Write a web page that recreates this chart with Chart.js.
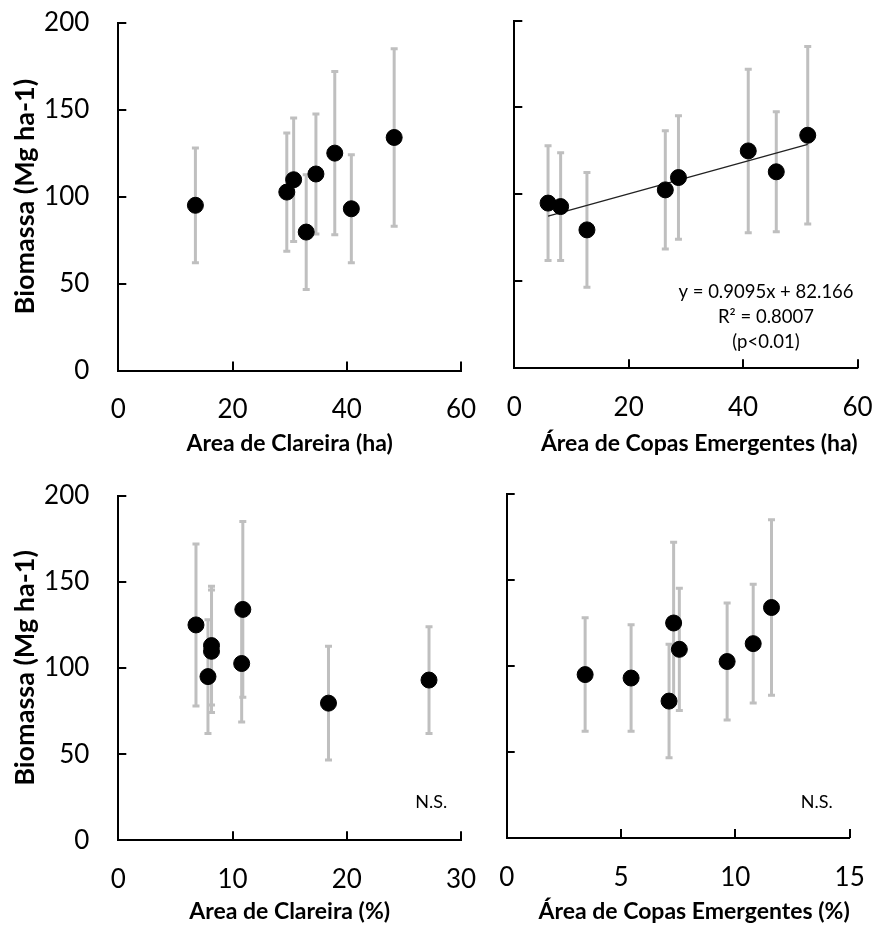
<!DOCTYPE html>
<html>
<head>
<meta charset="utf-8">
<script src="https://cdn.jsdelivr.net/npm/chart.js@4/dist/chart.umd.min.js"></script>
<style>
html,body{margin:0;padding:0;background:#fff;}
#wrap{position:relative;width:877px;height:931px;overflow:hidden;}
#wrap canvas{position:absolute;left:-200px;top:-200px;}
</style>
</head>
<body>
<div id="wrap">
<canvas id="c1" width="1277" height="1331"></canvas>
<canvas id="c2" width="1277" height="1331"></canvas>
<canvas id="c3" width="1277" height="1331"></canvas>
<canvas id="c4" width="1277" height="1331"></canvas>
</div>
<script>
// ---- data (8 plots, same order in every array) ----
const biomass      = [95, 102.6, 109.7, 79.6, 113, 125, 93, 134];      // Mg ha-1
const biomassErr   = [33, 34, 35.5, 33, 34.5, 47, 31, 51];              // error bar half-length
const gapAreaHa    = [13.5, 29.5, 30.7, 32.9, 34.6, 37.9, 40.8, 48.3];  // Area de Clareira (ha)
const crownAreaHa  = [5.9, 26.4, 28.7, 12.7, 45.8, 40.9, 8.1, 51.3];    // Área de Copas Emergentes (ha)
const gapAreaPct   = [7.85, 10.8, 8.16, 18.4, 8.16, 6.8, 27.2, 10.9];   // Area de Clareira (%)
const crownAreaPct = [3.43, 9.64, 7.55, 7.1, 10.78, 7.3, 5.44, 11.58];  // Área de Copas Emergentes (%)

const yTicks        = [0, 50, 100, 150, 200];
const xTicksHa      = [0, 20, 40, 60];
const xTicksGapPct  = [0, 10, 20, 30];
const xTicksCrownPct= [0, 5, 10, 15];

const trendSlope = 0.9095;
const trendIntercept = 82.166;
const trendLabel = ["y = 0.9095x + 82.166", "R\u00B2 = 0.8007", "(p<0.01)"];
const nsLabel = "N.S.";

const yTitle = "Biomassa (Mg ha-1)";
const xTitles = ["Area de Clareira (ha)", "\u00C1rea de Copas Emergentes (ha)",
                 "Area de Clareira (%)", "\u00C1rea de Copas Emergentes (%)"];

// ---- plugins ----
const errorBars = {
  id: 'errorBars',
  beforeDatasetsDraw(chart) {
    const {ctx, scales: {x, y}} = chart;
    ctx.save();
    ctx.strokeStyle = '#BFBFBF';
    ctx.lineWidth = 3;
    chart.data.datasets.forEach(ds => {
      if (!ds.errors) return;
      ds.data.forEach((p, i) => {
        const px = x.getPixelForValue(p.x);
        const t = y.getPixelForValue(p.y + ds.errors[i]);
        const b = y.getPixelForValue(p.y - ds.errors[i]);
        ctx.beginPath();
        ctx.moveTo(px, t); ctx.lineTo(px, b);
        ctx.moveTo(px - 3.5, t); ctx.lineTo(px + 3.5, t);
        ctx.moveTo(px - 3.5, b); ctx.lineTo(px + 3.5, b);
        ctx.stroke();
      });
    });
    ctx.restore();
  }
};

const innerTicks = {
  id: 'innerTicks',
  afterDraw(chart) {
    const {ctx, chartArea: a, scales: {x, y}} = chart;
    ctx.save();
    ctx.strokeStyle = '#000';
    ctx.lineWidth = 2;
    ctx.beginPath();
    x.ticks.forEach(t => {
      const px = Math.round(x.getPixelForValue(t.value));
      ctx.moveTo(px, a.bottom); ctx.lineTo(px, a.bottom - 9);
    });
    y.ticks.forEach(t => {
      const py = Math.round(y.getPixelForValue(t.value));
      ctx.moveTo(a.left, py); ctx.lineTo(a.left + 8, py);
    });
    ctx.stroke();
    ctx.restore();
  }
};

const notes = {
  id: 'notes',
  afterDraw(chart, args, opts) {
    if (!opts.items) return;
    const {ctx, scales: {x, y}} = chart;
    ctx.save();
    ctx.fillStyle = '#000';
    ctx.textAlign = 'center';
    ctx.textBaseline = 'middle';
    opts.items.forEach(it => {
      ctx.font = it.font;
      ctx.fillText(it.text, x.getPixelForValue(it.x), y.getPixelForValue(it.y));
    });
    ctx.restore();
  }
};

const FONT = 'Lato, "Open Sans", sans-serif';
const OFF = 200;   // canvas margin outside the visible page
const W = 877, H = 931;

function makeChart(id, cfg) {
  const pts = cfg.xs.map((v, i) => ({x: v, y: biomass[i]}));
  const datasets = [{
    data: pts,
    errors: biomassErr,
    backgroundColor: '#000',
    borderColor: '#000',
    pointRadius: 8,
    pointHoverRadius: 8,
    order: 1
  }];
  if (cfg.trend) {
    const xmin = Math.min(...cfg.xs), xmax = Math.max(...cfg.xs);
    datasets.push({
      type: 'line',
      data: [{x: xmin, y: trendSlope * xmin + trendIntercept}, {x: xmax, y: trendSlope * xmax + trendIntercept}],
      borderColor: '#222',
      borderWidth: 1.3,
      pointRadius: 0,
      fill: false,
      order: 2
    });
  }
  const a = cfg.area; // left, top, right, bottom of plot area (page px)
  const XH = 90;
  return new Chart(document.getElementById(id), {
    type: 'scatter',
    data: {datasets},
    options: {
      responsive: false,
      animation: false,
      devicePixelRatio: 1,
      layout: {
        autoPadding: false,
        padding: {left: OFF, top: a[1] + OFF, right: W + OFF - a[2], bottom: H + OFF - a[3] - XH}
      },
      plugins: {
        legend: {display: false},
        tooltip: {enabled: false},
        notes: {items: cfg.notes || []}
      },
      scales: {
        x: {
          type: 'linear',
          min: cfg.xTicks[0],
          max: cfg.xTicks[cfg.xTicks.length - 1],
          afterBuildTicks: s => { s.ticks = cfg.xTicks.map(v => ({value: v})); },
          afterFit: s => { s.height = XH; },
          grid: {display: false, drawTicks: false},
          border: {display: true, color: '#000', width: 2},
          ticks: {padding: 24, color: '#000', font: {family: FONT, size: 26}},
          title: {
            display: true, text: cfg.xTitle, color: '#000', align: cfg.titleAlign,
            font: {family: FONT, size: 23, weight: 'bold'},
            padding: {top: 0, bottom: cfg.titlePad}
          }
        },
        y: {
          type: 'linear',
          min: 0, max: 200,
          afterBuildTicks: s => { s.ticks = yTicks.map(v => ({value: v})); },
          afterFit: s => { s.width = a[0]; },
          grid: {display: false, drawTicks: false},
          border: {display: true, color: '#000', width: 2},
          ticks: {display: cfg.yLabels, padding: 29, color: '#000', font: {family: FONT, size: 26}},
          title: {
            display: cfg.yLabels, text: yTitle, color: '#000',
            font: {family: FONT, size: 27, weight: 'bold'},
            padding: {top: 9, bottom: 0}
          }
        }
      }
    },
    plugins: [errorBars, innerTicks, notes]
  });
}

makeChart('c1', {xs: gapAreaHa, xTicks: xTicksHa, xTitle: xTitles[0], titleAlign: 'center', titlePad: 2.7,
  area: [118.3, 22.7, 461, 370.5], yLabels: true});
makeChart('c2', {xs: crownAreaHa, xTicks: xTicksHa, xTitle: xTitles[1], titleAlign: 'end', titlePad: 0.5,
  area: [514.3, 20.5, 857.5, 368.3], yLabels: false, trend: true,
  notes: [
    {text: trendLabel[0], x: 44, y: 44, font: '18.5px ' + FONT},
    {text: trendLabel[1], x: 44, y: 29.5, font: '18.5px ' + FONT},
    {text: trendLabel[2], x: 44, y: 15, font: '18.5px ' + FONT}
  ]});
makeChart('c3', {xs: gapAreaPct, xTicks: xTicksGapPct, xTitle: xTitles[2], titleAlign: 'center', titlePad: 4.5,
  area: [118.3, 495.7, 461, 840.3], yLabels: true,
  notes: [{text: nsLabel, x: 27.4, y: 22.2, font: '18px ' + FONT}]});
makeChart('c4', {xs: crownAreaPct, xTicks: xTicksCrownPct, xTitle: xTitles[3], titleAlign: 'end', titlePad: 2.2,
  area: [506.7, 494, 849.7, 838], yLabels: false,
  notes: [{text: nsLabel, x: 13.56, y: 21.1, font: '18px ' + FONT}]});
</script>
</body>
</html>
